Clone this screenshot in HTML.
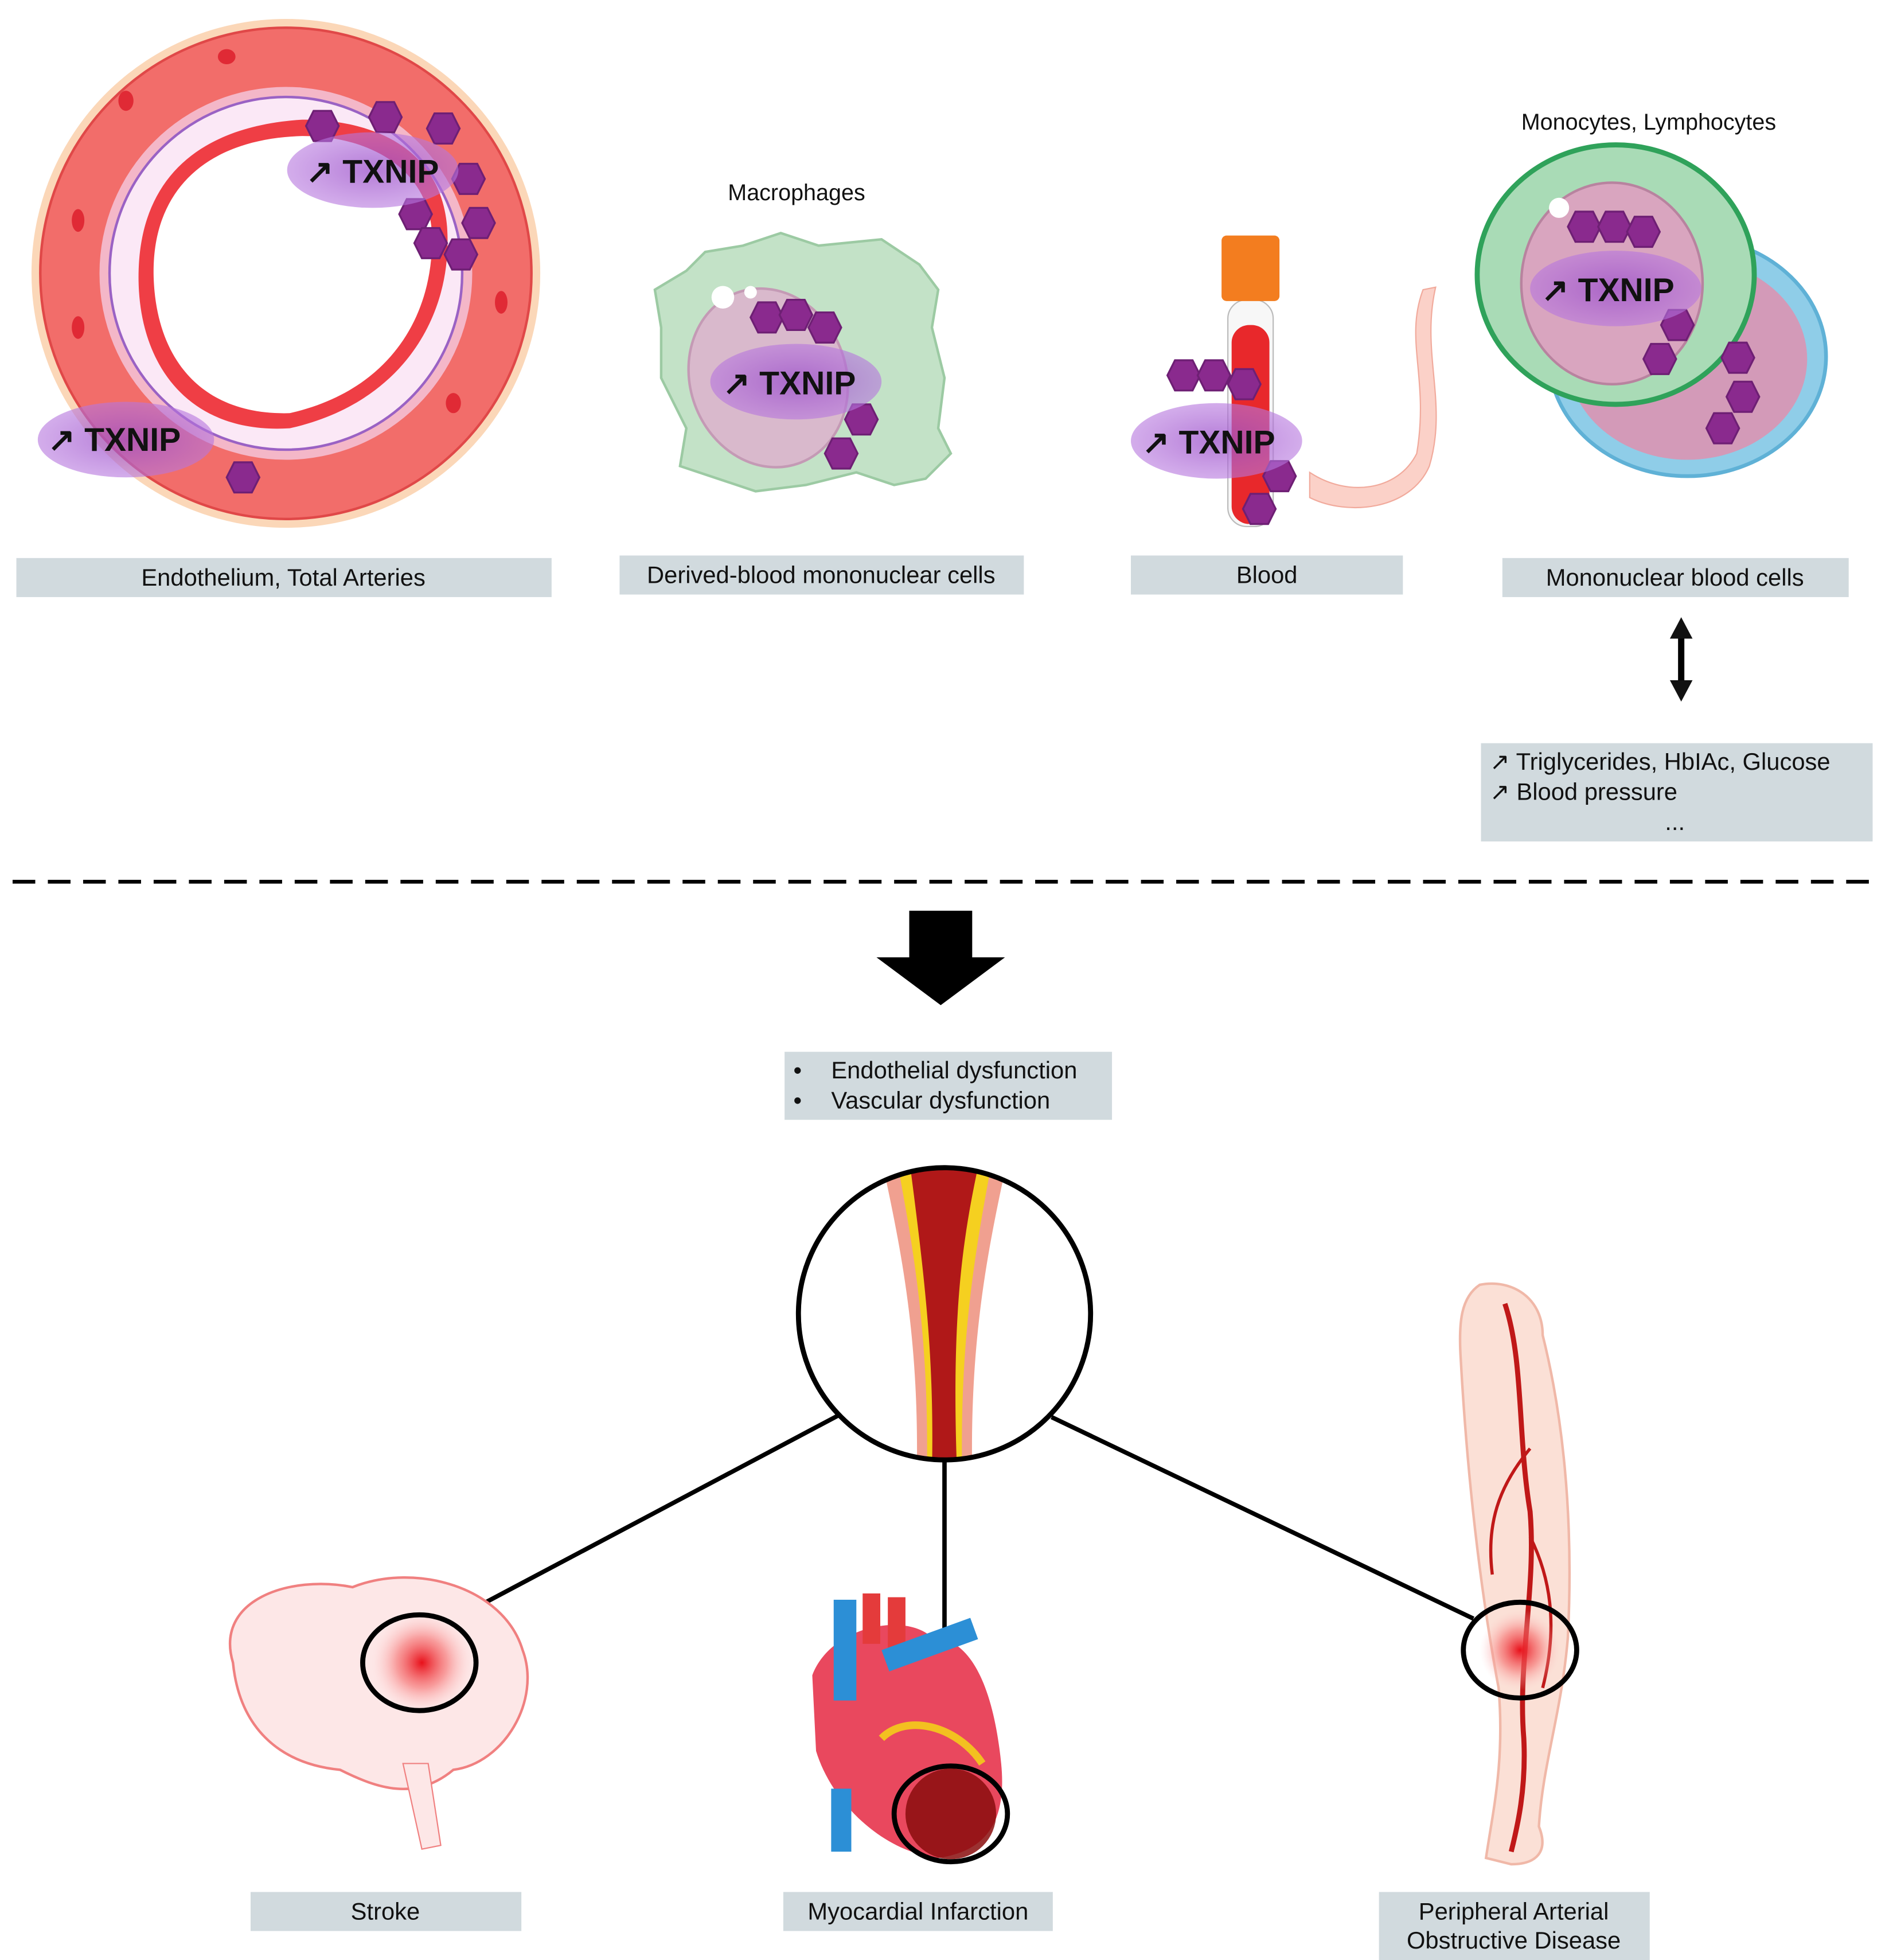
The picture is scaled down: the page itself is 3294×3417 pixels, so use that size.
<!DOCTYPE html>
<html><head><meta charset="utf-8"><style>html,body{margin:0;padding:0;background:#fff}svg{display:block}text{font-family:"Liberation Sans",sans-serif}</style></head>
<body>
<svg width="3294" height="3417" viewBox="0 0 1500 1556" xmlns="http://www.w3.org/2000/svg">
<defs>
<radialGradient id="txg" cx="50%" cy="50%" r="50%"><stop offset="0" stop-color="#9b4fc9" stop-opacity=".75"/><stop offset="1" stop-color="#b676de" stop-opacity=".6"/></radialGradient>
<radialGradient id="hot" cx="50%" cy="50%" r="50%"><stop offset="0" stop-color="#e8101a"/><stop offset=".5" stop-color="#f56a6a" stop-opacity=".6"/><stop offset="1" stop-color="#ffd0d0" stop-opacity="0"/></radialGradient>
<g id="hex"><polygon points="-13,0 -7,-12 7,-12 13,0 7,12 -7,12" fill="#8a2a8e" stroke="#6e1f74" stroke-width="1.5"/></g>
</defs>
<g font-size="19" fill="#111">
<!-- Artery ring -->
<ellipse cx="227" cy="217" rx="202" ry="202" fill="#fbd7b8"/>
<ellipse cx="227" cy="217" rx="195" ry="195" fill="#f26d6a" stroke="#e04848" stroke-width="2"/>
<ellipse cx="227" cy="217" rx="148" ry="148" fill="#f4b7c8"/>
<ellipse cx="227" cy="217" rx="140" ry="140" fill="#fbe8f6" stroke="#9a62c4" stroke-width="2"/>
<path d="M110,220 C110,140 160,100 240,95 C300,95 350,120 355,180 C360,250 320,320 230,340 C150,345 110,290 110,220Z" fill="#ef3e45"/>
<path d="M122,220 C120,150 165,110 240,108 C295,108 340,135 343,185 C345,250 310,310 230,328 C160,330 124,285 122,220Z" fill="#fff"/>
<g fill="#e02a35"><ellipse cx="62" cy="175" rx="5" ry="9"/><ellipse cx="100" cy="80" rx="6" ry="8"/><ellipse cx="180" cy="45" rx="7" ry="6"/><ellipse cx="398" cy="240" rx="5" ry="9"/><ellipse cx="360" cy="320" rx="6" ry="8"/><ellipse cx="62" cy="260" rx="5" ry="9"/></g>
<use href="#hex" x="256" y="100"/><use href="#hex" x="306" y="93"/><use href="#hex" x="352" y="102"/><use href="#hex" x="372" y="142"/><use href="#hex" x="380" y="177"/><use href="#hex" x="330" y="170"/><use href="#hex" x="342" y="193"/><use href="#hex" x="366" y="202"/><use href="#hex" x="193" y="379"/>
<ellipse cx="296" cy="135" rx="68" ry="30" fill="url(#txg)"/>
<text x="243" y="145" font-family="Liberation Serif" font-size="26" font-weight="bold">↗ TXNIP</text>
<ellipse cx="100" cy="349" rx="70" ry="30" fill="url(#txg)"/>
<text x="38" y="358" font-family="Liberation Serif" font-size="26" font-weight="bold">↗ TXNIP</text>
<!-- Macrophage -->
<path d="M520,230 L545,215 L560,200 L590,195 L620,185 L650,195 L700,190 L730,210 L745,230 L740,260 L750,300 L745,340 L755,360 L735,380 L710,385 L680,375 L640,385 L600,390 L570,380 L540,370 L545,340 L525,300 L525,260Z" fill="#c3e2c7" stroke="#9ccaa3" stroke-width="2"/>
<ellipse cx="610" cy="300" rx="62" ry="72" fill="#d9b9cc" stroke="#c49ab5" stroke-width="2" transform="rotate(-20 610 300)"/>
<circle cx="574" cy="236" r="9" fill="#fff"/><circle cx="596" cy="232" r="5" fill="#fff"/>
<use href="#hex" x="609" y="252"/><use href="#hex" x="632" y="250"/><use href="#hex" x="655" y="260"/><use href="#hex" x="684" y="333"/><use href="#hex" x="668" y="360"/>
<ellipse cx="632" cy="303" rx="68" ry="30" fill="url(#txg)"/>
<text x="574" y="313" font-family="Liberation Serif" font-size="26" font-weight="bold">↗ TXNIP</text>
<text x="578" y="159" font-size="18">Macrophages</text>
<!-- Blood tube -->
<path d="M1040,375 C1070,395 1110,390 1125,360 C1135,300 1115,270 1130,230 L1140,228 C1128,280 1150,320 1135,370 C1120,405 1070,410 1040,395Z" fill="#fbd1c8" stroke="#f1aa9c"/>
<rect x="975" y="238" width="36" height="180" rx="15" fill="#f7f7f7" stroke="#bbb"/>
<rect x="978" y="258" width="30" height="158" rx="14" fill="#e8282b"/>
<rect x="970" y="187" width="46" height="52" rx="4" fill="#f37d1f"/>
<use href="#hex" x="940" y="298"/><use href="#hex" x="964" y="298"/><use href="#hex" x="988" y="305"/><use href="#hex" x="1016" y="378"/><use href="#hex" x="1000" y="404"/>
<ellipse cx="966" cy="350" rx="68" ry="30" fill="url(#txg)"/>
<text x="907" y="360" font-family="Liberation Serif" font-size="26" font-weight="bold">↗ TXNIP</text>
<!-- Monocytes -->
<ellipse cx="1340" cy="283" rx="110" ry="95" fill="#8fcde8" stroke="#5fb1d6" stroke-width="3"/>
<ellipse cx="1340" cy="285" rx="95" ry="80" fill="#d39ab8"/>
<ellipse cx="1283" cy="218" rx="110" ry="103" fill="#a9dbb6" stroke="#2fa25a" stroke-width="4"/>
<ellipse cx="1280" cy="225" rx="72" ry="80" fill="#d9a5bf" stroke="#b8839f" stroke-width="2"/>
<circle cx="1238" cy="165" r="8" fill="#fff"/>
<use href="#hex" x="1258" y="180"/><use href="#hex" x="1282" y="180"/><use href="#hex" x="1305" y="184"/><use href="#hex" x="1332" y="258"/><use href="#hex" x="1318" y="285"/><use href="#hex" x="1380" y="284"/><use href="#hex" x="1384" y="315"/><use href="#hex" x="1368" y="340"/>
<ellipse cx="1283" cy="229" rx="68" ry="30" fill="url(#txg)"/>
<text x="1224" y="239" font-family="Liberation Serif" font-size="26" font-weight="bold">↗ TXNIP</text>
<text x="1208" y="103" font-size="18">Monocytes, Lymphocytes</text>
<!-- Label boxes -->
<g fill="#d1dade">
<rect x="13" y="443" width="425" height="31"/><rect x="492" y="441" width="321" height="31"/><rect x="898" y="441" width="216" height="31"/><rect x="1193" y="443" width="275" height="31"/>
<rect x="1176" y="590" width="311" height="78"/><rect x="623" y="835" width="260" height="54"/>
<rect x="199" y="1502" width="215" height="31"/><rect x="622" y="1502" width="214" height="31"/><rect x="1095" y="1502" width="215" height="54"/>
</g>
<text x="225" y="465" text-anchor="middle">Endothelium, Total Arteries</text>
<text x="652" y="463" text-anchor="middle">Derived-blood mononuclear cells</text>
<text x="1006" y="463" text-anchor="middle">Blood</text>
<text x="1330" y="465" text-anchor="middle">Mononuclear blood cells</text>
<text x="1183" y="611">↗  Triglycerides, HbIAc, Glucose</text>
<text x="1183" y="635">↗  Blood pressure</text>
<text x="1330" y="659" text-anchor="middle">...</text>
<text x="630" y="856">•</text><text x="660" y="856">Endothelial dysfunction</text>
<text x="630" y="880">•</text><text x="660" y="880">Vascular dysfunction</text>
<text x="306" y="1524" text-anchor="middle">Stroke</text>
<text x="729" y="1524" text-anchor="middle">Myocardial Infarction</text>
<text x="1202" y="1524" text-anchor="middle">Peripheral Arterial</text>
<text x="1202" y="1547" text-anchor="middle">Obstructive Disease</text>
<!-- Double arrow -->
<line x1="1335" y1="505" x2="1335" y2="542" stroke="#000" stroke-width="5"/>
<polygon points="1335,490 1326,507 1344,507"/><polygon points="1335,557 1326,540 1344,540"/>
<!-- dashed line -->
<line x1="10" y1="700" x2="1492" y2="700" stroke="#000" stroke-width="3" stroke-dasharray="18,10"/>
<!-- big arrow -->
<polygon points="722,723 772,723 772,760 798,760 747,798 696,760 722,760" fill="#000"/>
<!-- Vessel circle -->
<clipPath id="cc"><circle cx="750" cy="1043" r="116"/></clipPath>
<g clip-path="url(#cc)">
<path d="M700,920 L800,920 C785,990 770,1060 772,1170 L728,1170 C730,1060 715,990 700,920Z" fill="#f0a090"/>
<path d="M712,920 L788,920 C775,990 762,1060 764,1170 L736,1170 C738,1060 725,990 712,920Z" fill="#f5d020"/>
<path d="M722,920 L778,920 C765,980 755,1040 760,1170 L740,1170 C742,1080 735,1020 722,920Z" fill="#b01818"/>
</g>
<circle cx="750" cy="1043" r="116" fill="none" stroke="#000" stroke-width="4"/>
<g stroke="#000" stroke-width="3.5" fill="none">
<line x1="667" y1="1123" x2="365" y2="1283"/><line x1="750" y1="1160" x2="750" y2="1400"/><line x1="835" y1="1125" x2="1170" y2="1285"/>
</g>
<!-- Brain -->
<path d="M185,1320 C170,1270 230,1250 280,1260 C330,1240 400,1260 415,1310 C430,1350 400,1400 360,1405 C330,1430 300,1420 270,1405 C220,1400 190,1370 185,1320Z" fill="#fde7e7" stroke="#f08080" stroke-width="2"/>
<path d="M320,1400 L335,1468 L350,1465 L340,1400Z" fill="#fde7e7" stroke="#f08080"/>
<circle cx="335" cy="1320" r="40" fill="url(#hot)"/>
<ellipse cx="333" cy="1320" rx="45" ry="38" fill="none" stroke="#000" stroke-width="4"/>
<!-- Heart -->
<path d="M645,1330 C660,1290 720,1280 740,1300 C775,1300 790,1350 795,1400 C800,1450 780,1470 745,1475 C700,1470 660,1430 648,1390Z" fill="#e9485e"/>
<rect x="662" y="1270" width="18" height="80" fill="#2c8fd6"/><rect x="685" y="1265" width="14" height="40" fill="#e43b3b"/><rect x="705" y="1268" width="14" height="40" fill="#e43b3b"/>
<rect x="700" y="1310" width="75" height="18" fill="#2c8fd6" transform="rotate(-20 700 1310)"/>
<rect x="660" y="1420" width="16" height="50" fill="#2c8fd6"/>
<path d="M700,1380 C720,1360 760,1370 780,1400" stroke="#f3c020" stroke-width="6" fill="none"/>
<circle cx="755" cy="1440" r="36" fill="#8a0d0d" opacity=".85"/>
<ellipse cx="755" cy="1440" rx="45" ry="38" fill="none" stroke="#000" stroke-width="4"/>
<!-- Leg -->
<path d="M1175,1020 C1200,1015 1225,1030 1225,1060 C1240,1120 1250,1200 1245,1300 C1240,1360 1225,1400 1222,1450 C1230,1470 1220,1480 1200,1480 L1180,1475 C1185,1440 1195,1400 1190,1340 C1175,1260 1165,1170 1160,1080 C1158,1050 1160,1030 1175,1020Z" fill="#fbe0d6" stroke="#f0b8a8" stroke-width="2"/>
<path d="M1195,1035 C1210,1080 1205,1140 1215,1200 C1220,1260 1205,1320 1210,1380 C1212,1420 1205,1450 1200,1470" stroke="#c01818" stroke-width="4" fill="none"/>
<path d="M1215,1150 C1190,1180 1180,1210 1185,1250 M1215,1220 C1235,1260 1235,1300 1225,1340" stroke="#c01818" stroke-width="2.5" fill="none"/>
<circle cx="1207" cy="1310" r="32" fill="url(#hot)"/>
<ellipse cx="1207" cy="1310" rx="45" ry="38" fill="none" stroke="#000" stroke-width="4"/>
</g>
</svg>
</body></html>
